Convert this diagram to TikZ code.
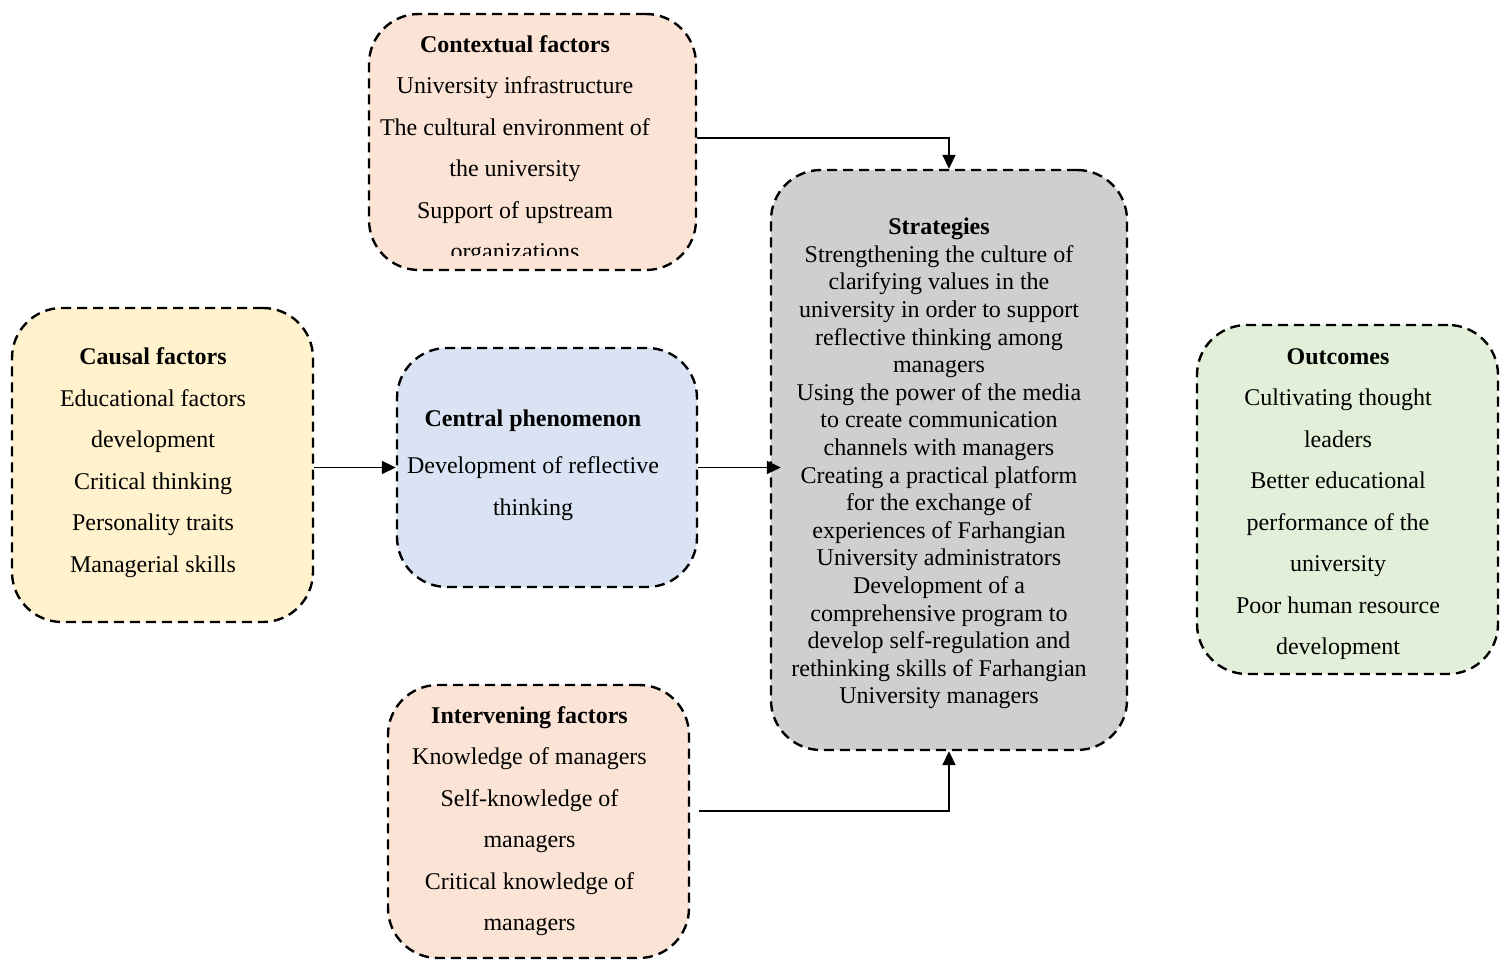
\documentclass[tikz,border=0pt]{standalone}
\usepackage{fontspec}
\setmainfont{Liberation Serif}
\usetikzlibrary{arrows.meta}

\definecolor{peach}{HTML}{FBE4D5}
\definecolor{lightgold}{HTML}{FFF2CC}
\definecolor{lightblue}{HTML}{DAE3F3}
\definecolor{lightgray}{HTML}{D0CECE}
\definecolor{lightgreen}{HTML}{E2F0D9}

\begin{document}
\begin{tikzpicture}[x=0.5pt, y=-0.5pt,
  box/.style={draw, line width=1.2pt, dash pattern=on 5pt off 3pt, rounded corners=25pt, inner sep=0pt},
  txt/.style={align=center, inner sep=0pt, font=\fontsize{12}{20.75}\selectfont},
  arr/.style={line width=0.9pt, -{Triangle[length=7pt,width=6.5pt]}}]
\useasboundingbox (0,0) rectangle (1505,961);
% boxes
\node[box, fill=peach, minimum width=163.5pt, minimum height=128pt] (ctx) at (532.5,142) {};
\node[box, fill=lightgold, minimum width=150.5pt, minimum height=157pt] (causal) at (162.5,465) {};
\node[box, fill=lightblue, minimum width=150pt, minimum height=119.5pt] (central) at (547,467.5) {};
\node[box, fill=lightgray, minimum width=178pt, minimum height=290pt] (strat) at (949,460) {};
\node[box, fill=lightgreen, minimum width=150.5pt, minimum height=174.5pt] (outc) at (1347.5,499.5) {};
\node[box, fill=peach, minimum width=150.5pt, minimum height=136.5pt] (intv) at (538.5,821.5) {};
% texts
\begin{scope}
\clip (369,14) rectangle (696,256);
\node[txt] (ctx-txt) at (515,150) {\textbf{Contextual factors}\\University infrastructure\\The cultural environment of\\the university\\Support of upstream\\organizations};
\end{scope}
\node[txt] (causal-txt) at (153,462.5) {\textbf{Causal factors}\\Educational factors\\development\\Critical thinking\\Personality traits\\Managerial skills};
\node[txt] (central-txt) at (533,465) {\textbf{Central phenomenon}\\[3pt]Development of reflective\\thinking};
\node[txt, font=\fontsize{12}{13.8}\selectfont] (strat-txt) at (939,463.5) {\textbf{Strategies}\\Strengthening the culture of\\clarifying values in the\\university in order to support\\reflective thinking among\\managers\\Using the power of the media\\to create communication\\channels with managers\\Creating a practical platform\\for the exchange of\\experiences of Farhangian\\University administrators\\Development of a\\comprehensive program to\\develop self-regulation and\\rethinking skills of Farhangian\\University managers};
\node[txt] (outc-txt) at (1338,504) {\textbf{Outcomes}\\Cultivating thought\\leaders\\Better educational\\performance of the\\university\\Poor human resource\\development};
\node[txt] (intv-txt) at (529.5,821) {\textbf{Intervening factors}\\Knowledge of managers\\Self-knowledge of\\managers\\Critical knowledge of\\managers};
% connectors
\draw[arr] ([yshift=2pt]ctx.east) -| (strat.north);
\draw[arr] (causal.east |- central.west) -- (central.west);
\draw[arr, shorten >=-5.5pt] (central.east) -- (central.east -| strat.west);
\coordinate (intv-out) at ([xshift=4.5pt,yshift=5.25pt]intv.east);
\draw[arr] (intv-out) -| (strat.south);
\end{tikzpicture}
\end{document}
